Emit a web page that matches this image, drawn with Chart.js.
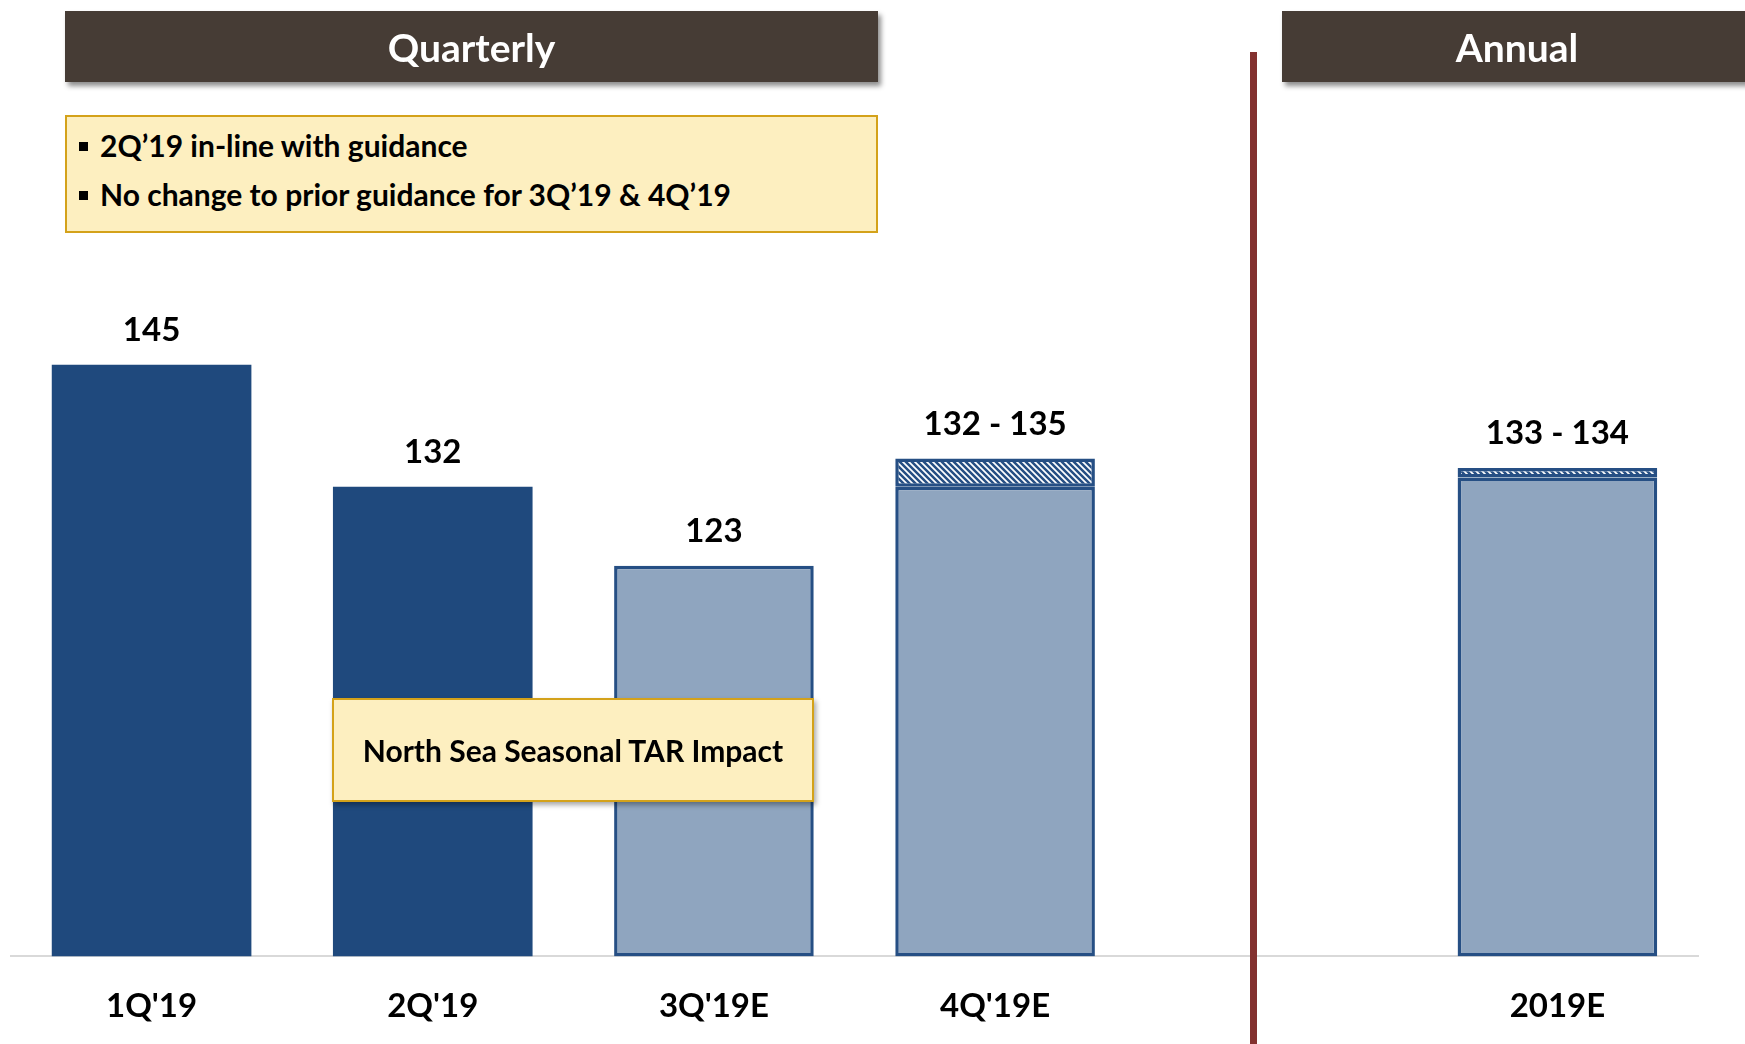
<!DOCTYPE html>
<html>
<head>
<meta charset="utf-8">
<script src="https://cdn.jsdelivr.net/npm/chart.js@4/dist/chart.umd.min.js"></script>
<style>
    body { margin: 0; background: #fff; font-family: Lato, 'Open Sans', sans-serif; }
    #wrap { position: relative; width: 1745px; height: 1044px; overflow: hidden; }
    #chart { position: absolute; left: 0; top: 0; }
    .header {
        position: absolute; top: 11px; height: 71px; background: #463C35; color: #fff;
        font-weight: bold; font-size: 39px; display: flex; align-items: center; justify-content: center;
        box-shadow: 3px 4px 5px rgba(0,0,0,0.45);
    }
    .note {
        position: absolute; background: #FDEFC0; border: 2px solid #D4A21A; box-sizing: border-box;
        font-weight: bold; color: #000;
    }
    #bullets { left: 65px; top: 115px; width: 813px; height: 118px; font-size: 30px; padding: 8px 0 0 12px; }
    #bullets div { height: 49px; line-height: 40px; }
    #bullets span.sq { display: inline-block; width: 9px; height: 9px; background: #000; margin: 0 12px 6px 0; vertical-align: middle; }
    #tar { left: 332px; top: 698px; width: 482px; height: 104px; font-size: 30px; display: flex; align-items: center; justify-content: center; box-shadow: 2px 3px 5px rgba(0,0,0,0.35); }
    #divider { position: absolute; left: 1250px; top: 52px; width: 7px; height: 992px; background: #83312F; }
</style>
</head>
<body>
<div id="wrap">
    <canvas id="chart" width="1745" height="1044"></canvas>
    <div class="header" style="left:65px;width:813px;">Quarterly</div>
    <div class="header" style="left:1282px;width:470px;">Annual</div>
    <div id="bullets" class="note">
        <div><span class="sq"></span>2Q’19 in-line with guidance</div>
        <div><span class="sq"></span>No change to prior guidance for 3Q’19 &amp; 4Q’19</div>
    </div>
    <div id="divider"></div>
    <div id="tar" class="note">North Sea Seasonal TAR Impact</div>
</div>
<script>
    // Valeurs
    const categories = ["1Q'19", "2Q'19", "3Q'19E", "4Q'19E", "", "2019E"];
    const baseValues = [145, 132, 123.6, 132, null, 133];
    const rangeLow = [null, null, null, 132, null, 133];
    const rangeHigh = [null, null, null, 135, null, 134];
    const isEstimate = [false, false, true, true, false, true];
    const valueLabels = ['145', '132', '123', '132 - 135', '', '133 - 134'];

    const Y_MIN = 82;
    const Y_MAX = 157;
    const DARK = '#1F497D';
    const LIGHT = '#8FA5BF';
    const EDGE = '#264F84';

    // motif hachuré pour la fourchette de guidance
    const makeHatch = () => {
        const c = document.createElement('canvas');
        c.width = 6; c.height = 6;
        const g = c.getContext('2d');
        g.fillStyle = '#fff';
        g.fillRect(0, 0, 6, 6);
        g.strokeStyle = EDGE;
        g.lineWidth = 2.5;
        g.beginPath();
        g.moveTo(0, 0); g.lineTo(6, 6);
        g.moveTo(-3, 3); g.lineTo(3, 9);
        g.moveTo(3, -3); g.lineTo(9, 3);
        g.stroke();
        return g.createPattern(c, 'repeat');
    };

    const valueLabelPlugin = {
        id: 'valueLabels',
        afterDatasetsDraw(chart) {
            const ctx = chart.ctx;
            const baseMeta = chart.getDatasetMeta(0);
            const rangeMeta = chart.getDatasetMeta(1);
            ctx.save();
            ctx.font = 'bold 33px Lato, sans-serif';
            ctx.fillStyle = '#000';
            ctx.textAlign = 'center';
            ctx.textBaseline = 'alphabetic';
            valueLabels.forEach((txt, i) => {
                if (!txt) return;
                const el = rangeLow[i] != null ? rangeMeta.data[i] : baseMeta.data[i];
                ctx.fillText(txt, el.x, el.y - 24);
            });
            ctx.restore();
        }
    };

    new Chart(document.getElementById('chart'), {
        type: 'bar',
        data: {
            labels: categories,
            datasets: [
                {
                    data: baseValues,
                    base: Y_MIN,
                    grouped: false,
                    backgroundColor: isEstimate.map(e => e ? LIGHT : DARK),
                    borderColor: isEstimate.map(e => e ? EDGE : DARK),
                    borderWidth: isEstimate.map(e => e ? 3.5 : 0),
                    borderSkipped: false,
                    barPercentage: 0.71,
                    categoryPercentage: 1
                },
                {
                    data: rangeLow.map((lo, i) => lo == null ? null : [lo, rangeHigh[i]]),
                    grouped: false,
                    backgroundColor: makeHatch(),
                    borderColor: EDGE,
                    borderWidth: 3.5,
                    borderSkipped: false,
                    barPercentage: 0.71,
                    categoryPercentage: 1
                }
            ]
        },
        options: {
            responsive: false,
            animation: false,
            layout: { padding: { left: 11, right: 47, top: 252, bottom: -12 } },
            plugins: { legend: { display: false }, tooltip: { enabled: false } },
            scales: {
                x: {
                    grid: { display: false, drawTicks: false },
                    border: { display: true, color: '#D9D9D9', width: 2 },
                    ticks: { color: '#000', font: { family: 'Lato', weight: 'bold', size: 33 }, padding: 30 }
                },
                y: {
                    display: false,
                    min: Y_MIN,
                    max: Y_MAX
                }
            }
        },
        plugins: [valueLabelPlugin]
    });
</script>
</body>
</html>
